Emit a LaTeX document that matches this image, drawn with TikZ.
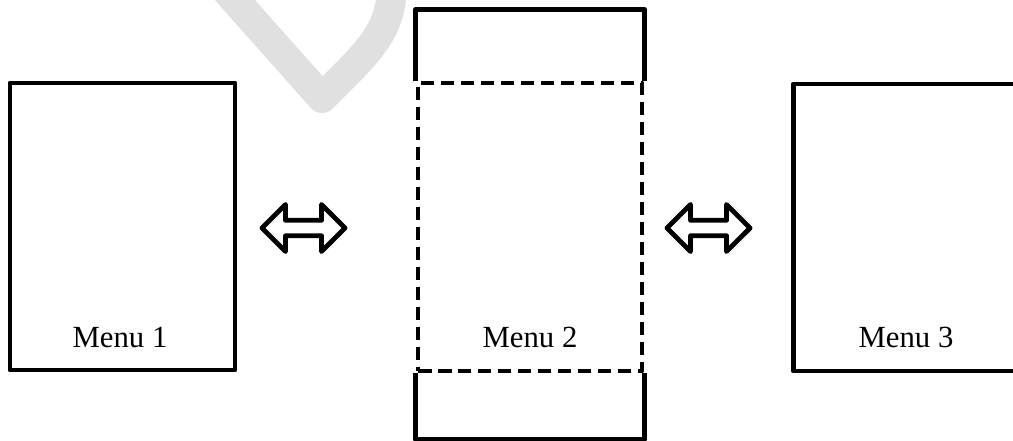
\documentclass[tikz,border=0pt]{standalone}
\usepackage{fontspec}
\setmainfont{Liberation Serif}
\usetikzlibrary{calc}
\usetikzlibrary{shapes.arrows,positioning}
\definecolor{outline}{HTML}{000000}
\definecolor{watermark}{HTML}{e0e0e0}

\begin{document}
\begin{tikzpicture}[
                x=0.02cm, y=-0.02cm,
                font=\fontsize{17.5}{20}\selectfont,
                frame/.style={draw=outline, line width=2.8pt, line join=round},
                menubox/.style={frame, rectangle, inner sep=0pt,
                minimum width=225*\px, minimum height=287*\px},
                midbox/.style={menubox, dashed, dash pattern=on 0.27cm off 0.13cm,
                minimum width=224*\px, minimum height=288*\px},
                menulabel/.style={inner sep=0pt, text=outline},
                dblarrow/.style={frame, double arrow, inner sep=0pt,
                minimum height=83*\px, minimum width=47*\px,
                double arrow head extend=5*\px, double arrow tip angle=90},
                wmark/.style={draw=watermark, line width=30*\px, line join=round},
                ]

                \def\px{0.02cm}   % one pixel of the reference

                \useasboundingbox (0,0) rectangle (1013,440);

                % ── Watermark fragment (behind everything) ──
                \draw[wmark] (226,-10) -- (322,98) -- (345,75)
                    .. controls (375,45) and (390,25) .. (392,-10);

                % ── Menus ──
                \node[menubox] (m1) at (122.5,226.5) {};
                \node[midbox] (m2) at (530,227) {};
                \node[menubox] (m3) at (906,227.5) {};

                % top and bottom parts of menu 2 (open towards the dashed area)
                \draw[frame] (m2.north west) -- ++(0,-71) -| (m2.north east);
                \draw[frame] (m2.south west) -- ++(0,66) -| (m2.south east);

                \node[menulabel] (l1) at (120,337) {Menu 1};
                \node[menulabel] (l2) at (530,337) {Menu 2};
                \node[menulabel] (l3) at (906,337) {Menu 3};

                % ── Swipe arrows between the menus ──
                \node[dblarrow] (a12) at (303.5,228) {};
                \node[dblarrow] (a23) at (708.5,228) {};

\end{tikzpicture}
\end{document}
